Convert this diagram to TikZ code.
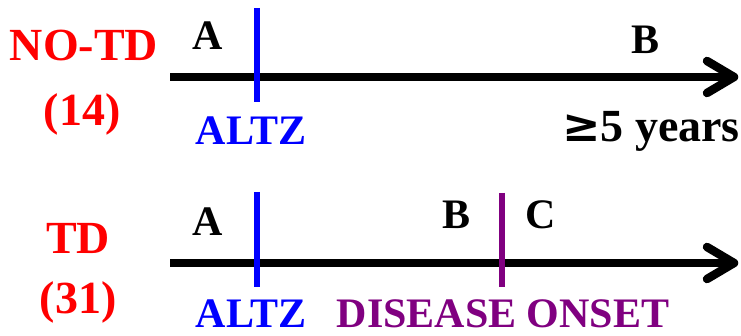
\documentclass[tikz,border=0pt]{standalone}
\usepackage{fontspec}
\setmainfont{Liberation Serif}
\newfontfamily\symfont{DejaVu Serif}
\definecolor{tred}{RGB}{255,0,0}
\definecolor{tblue}{RGB}{0,0,255}
\definecolor{tpurple}{RGB}{128,0,128}
\begin{document}
\begin{tikzpicture}[x=1pt,y=-1pt,
  lbl/.style={font=\fontsize{42}{42}\selectfont\bfseries, inner sep=0pt, anchor=center},
  big/.style={font=\fontsize{46}{46}\selectfont\bfseries},
  axis/.style={line width=8.5pt, black},
  chev/.style={line width=8.5pt, black, line cap=round, line join=round},
  tick/.style={line width=6.5pt}]
\useasboundingbox (0,0) rectangle (741,336);
% top timeline
\coordinate (s1) at (170,77);
\coordinate (e1) at (734,77);
\coordinate (c1a) at (707,61);
\coordinate (c1b) at (707,93);
\draw[axis] (s1) -- (e1);
\draw[chev] (c1a) -- (e1) -- (c1b);
\coordinate (t1a) at (257,8);
\coordinate (t1b) at (257,102);
\draw[tick, tblue] (t1a) -- (t1b);
\node[lbl, big, tred] (notd) at (84,45) {NO-TD};
\node[lbl, big, tred] (n14) at (82,114) {(14)};
\node[lbl] (a1) at (208,36) {A};
\node[lbl] (b1) at (645,40) {B};
\node[lbl, tblue] (altz1) at (251,131) {ALTZ};
\node[lbl, big, anchor=east] (yrs) at (740,131) {{\symfont ≥}5 years};
% bottom timeline
\coordinate (s2) at (170,263);
\coordinate (e2) at (734,263);
\coordinate (c2a) at (707,247);
\coordinate (c2b) at (707,279);
\draw[axis] (s2) -- (e2);
\draw[chev] (c2a) -- (e2) -- (c2b);
\coordinate (t2a) at (257,192);
\coordinate (t2b) at (257,287);
\draw[tick, tblue] (t2a) -- (t2b);
\coordinate (t3a) at (502,193);
\coordinate (t3b) at (502,287);
\draw[tick, tpurple] (t3a) -- (t3b);
\node[lbl, big, tred] (td) at (78,238) {TD};
\node[lbl, big, tred] (n31) at (78,302) {(31)};
\node[lbl] (a2) at (208,222) {A};
\node[lbl] (b2) at (456,215) {B};
\node[lbl] (c2) at (541,215) {C};
\node[lbl, tblue] (altz2) at (251,314) {ALTZ};
\node[lbl, tpurple] (onset) at (503,314) {DISEASE ONSET};
\end{tikzpicture}
\end{document}
